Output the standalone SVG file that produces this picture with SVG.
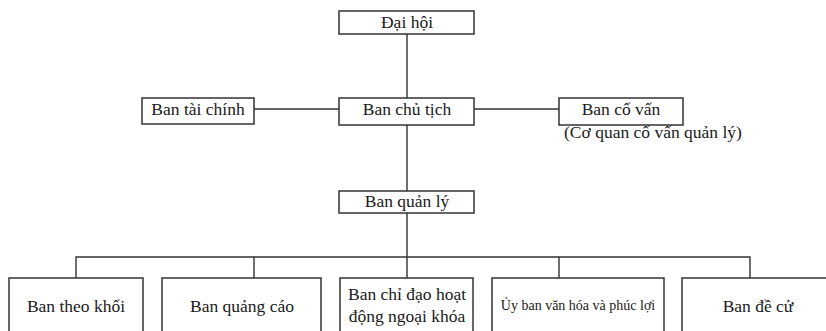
<svg xmlns="http://www.w3.org/2000/svg" width="826" height="331" viewBox="0 0 826 331">
<style>
.box{fill:#fff;stroke:#333;stroke-width:1.5}
.ln{fill:none;stroke:#333;stroke-width:1.4}
text{font-family:"Liberation Serif","Times New Roman",serif;font-size:17.5px;fill:#1a1a1a;text-anchor:middle}
.sm{font-size:14px}
</style>
<rect width="826" height="331" fill="#fff"/>
<g id="connectors">
<path class="ln" d="M407 34V98M407 125V191M407 213V257M254 109H339M474 109H559M76 278V257H750V278M254 257V278M407 257V278M559 257V278"/>
</g>
<g id="dai-hoi"><rect class="box" x="339" y="11" width="135" height="23"/><text x="407" y="28">Đại hội</text></g>
<g id="ban-tai-chinh"><rect class="box" x="142" y="98" width="112" height="26"/><text x="198" y="115">Ban tài chính</text></g>
<g id="ban-chu-tich"><rect class="box" x="339" y="98" width="135" height="27"/><text x="407" y="115">Ban chủ tịch</text></g>
<g id="ban-co-van"><rect class="box" x="559" y="98" width="124" height="27"/><text x="621" y="115">Ban cố vấn</text><text x="653" y="138">(Cơ quan cố vấn quản lý)</text></g>
<g id="ban-quan-ly"><rect class="box" x="339" y="191" width="135" height="22"/><text x="407" y="207">Ban quản lý</text></g>
<g id="ban-theo-khoi"><rect class="box" x="9" y="278" width="134" height="62"/><text x="76" y="312">Ban theo khối</text></g>
<g id="ban-quang-cao"><rect class="box" x="162" y="278" width="159" height="62"/><text x="242" y="312">Ban quảng cáo</text></g>
<g id="ban-chi-dao"><rect class="box" x="340" y="278" width="133" height="62"/><text x="407" y="300">Ban chỉ đạo hoạt</text><text x="407" y="322">động ngoại khóa</text></g>
<g id="uy-ban"><rect class="box" x="492" y="278" width="172" height="62"/><text class="sm" x="578" y="310">Ủy ban văn hóa và phúc lợi</text></g>
<g id="ban-de-cu"><rect class="box" x="682" y="278" width="160" height="62"/><text x="758" y="312">Ban đề cử</text></g>
</svg>
